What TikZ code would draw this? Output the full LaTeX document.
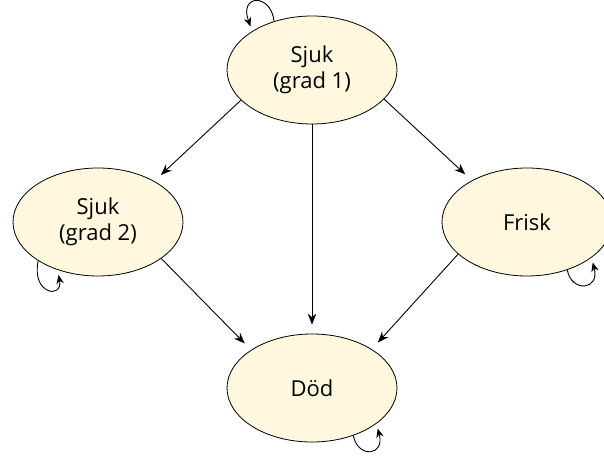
\documentclass[tikz,border=0pt]{standalone}
\usepackage{fontspec}
\setmainfont{Open Sans}
\usetikzlibrary{shapes.geometric,arrows.meta}
\definecolor{statefill}{RGB}{255,248,222}

\begin{document}
\begin{tikzpicture}[x=1pt,y=1pt,
    state/.style={ellipse,draw=black,fill=statefill,line width=0.8pt,minimum width=170pt,minimum height=108pt,inner sep=0pt,align=center,font=\fontsize{22}{26}\selectfont},
    trans/.style={-{Stealth[length=11pt,width=8.5pt]},line width=0.9pt,shorten >=9pt},
    selfloop/.style={-{Stealth[length=9pt,width=7.5pt]},line width=0.9pt,shorten >=5pt}]
    \clip (0,0) rectangle (604,455);
    \node[state] (grad1) at (312,385) {Sjuk\\(grad 1)};
    \node[state] (grad2) at (98,233) {Sjuk\\(grad 2)};
    \node[state] (frisk) at (527,233) {Frisk};
    \node[state] (dod) at (312,67) {Död};
    \draw[trans] (grad1.203) -- (grad2.36);
    \draw[trans] (grad1.south) -- (dod.north);
    \draw[trans] (grad1.338) -- (frisk.143);
    \draw[trans] (grad2.330) -- (dod.148);
    \draw[trans] (frisk.205) -- (dod.33);
    \draw[selfloop] (grad1.128) .. controls +(95:28) and +(110:40) .. (grad1.147);
    \draw[selfloop] (grad2.213) .. controls +(258:34) and +(280:30) .. (grad2.230);
    \draw[selfloop] (frisk.310) .. controls +(280:23) and +(285:34) .. (frisk.331);
    \draw[selfloop] (dod.311) .. controls +(280:23) and +(285:34) .. (dod.331);
\end{tikzpicture}
\end{document}
